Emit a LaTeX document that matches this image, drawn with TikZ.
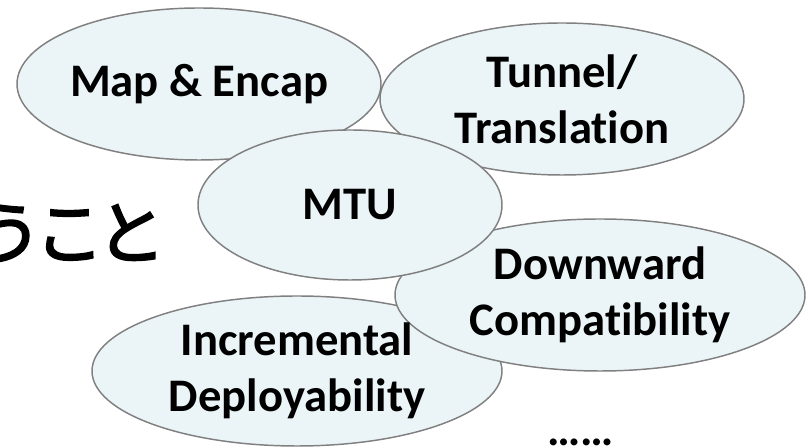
\documentclass[tikz,border=0pt]{standalone}
\usepackage{fontspec}
\setmainfont{Carlito}[Ligatures=NoCommon]
\newfontfamily\jpfont[LetterSpace=-11,FakeBold=2.5]{Noto Sans CJK JP}
\usetikzlibrary{shapes.geometric}
\definecolor{bubblefill}{RGB}{235,245,247}
\definecolor{bubbleline}{RGB}{128,128,128}

\begin{document}
\begin{tikzpicture}[x=0.75pt,y=-0.75pt,
    bubble/.style={ellipse,draw=bubbleline,line width=1.1pt,fill=bubblefill,inner sep=0pt},
    bubtext/.style={font=\fontsize{35}{42}\selectfont\bfseries,align=center,inner sep=0pt}]
                \useasboundingbox (0,0) rectangle (808,448);
                % the bubbles
                \node [bubble,minimum width=364*0.75pt,minimum height=152*0.75pt] (map) at (199,84) {};
                \node [bubble,minimum width=364*0.75pt,minimum height=152*0.75pt] (tunnel) at (562,99) {};
                \node [bubble,minimum width=410*0.75pt,minimum height=150*0.75pt] (incr) at (297,371) {};
                \node [bubble,minimum width=410*0.75pt,minimum height=152*0.75pt] (down) at (600,295) {};
                \node [bubble,minimum width=304*0.75pt,minimum height=150*0.75pt] (mtu) at (350,205) {};
                % the labels
                \node [bubtext] (maplbl) at (map) {Map \& Encap};
                \node [bubtext] (tunnellbl) at (tunnel) {Tunnel/\\Translation};
                \node [bubtext] (incrlbl) at (incr) {Incremental\\Deployability};
                \node [bubtext] (downlbl) at (down) {Downward\\Compatibility};
                \node [bubtext] (mtulbl) at (mtu) {MTU};
                \node [bubtext,anchor=base] (more) at (581,446) {……};
                \node [font=\jpfont\fontsize{52}{60}\selectfont,anchor=east,inner sep=0pt] (jp) at (166,233) {うこと};
\end{tikzpicture}
\end{document}
